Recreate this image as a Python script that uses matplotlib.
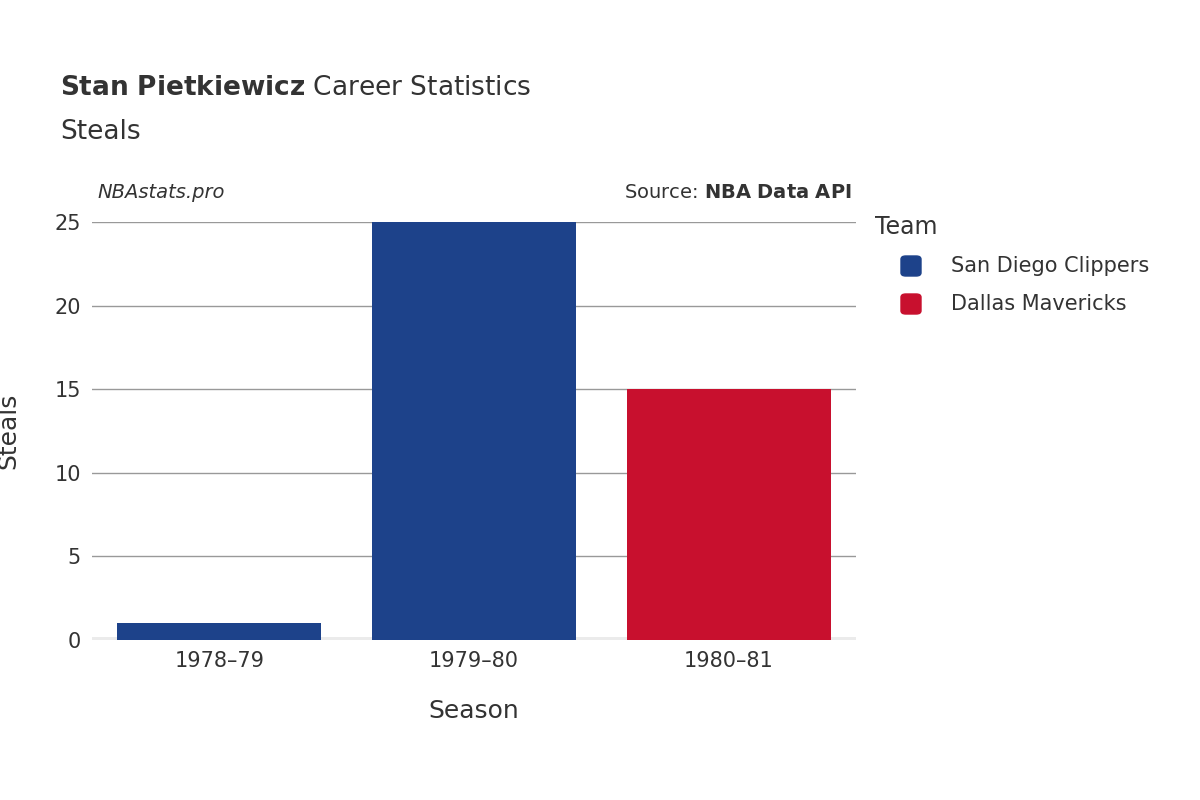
import matplotlib
matplotlib.use("Agg")
import matplotlib.pyplot as plt
from matplotlib.patches import FancyBboxPatch

plt.rcParams["font.family"] = "DejaVu Sans"

seasons = ["1978–79", "1979–80", "1980–81"]
steals = [1, 25, 15]
teams = ["San Diego Clippers", "San Diego Clippers", "Dallas Mavericks"]
team_order = ["San Diego Clippers", "Dallas Mavericks"]
colors = {"San Diego Clippers": "#1D428A", "Dallas Mavericks": "#C8102E"}
yticks = [0, 5, 10, 15, 20, 25]

fig = plt.figure(figsize=(12, 8), dpi=100)
ax = fig.add_axes([92/1200, 0.2, (856-92)/1200, (640-222)/800])
x = list(range(len(seasons)))
ax.bar(x, steals, width=0.8, color=[colors[t] for t in teams], zorder=3)
ax.set_xlim(-0.5, 2.5)
ax.set_ylim(0, 25)
ax.set_yticks(yticks)
ax.set_xticks(x)
ax.set_xticklabels(seasons)
ax.grid(axis="y", color="#999999", linewidth=1, zorder=0)
ax.axhline(0, color="#ebebeb", linewidth=5, zorder=2)
for s in ax.spines.values():
    s.set_visible(False)
ax.tick_params(length=0, labelsize=15, colors="#333333", pad=8)
ax.set_xlabel("Season", fontsize=18, color="#333333", labelpad=20)
ax.set_ylabel("Steals", fontsize=18, color="#333333")
ax.yaxis.set_label_coords(-72/764, 0.5)

fig.text(60/1200, 1-88/800, r"$\bf{Stan\ Pietkiewicz}$ Career Statistics", fontsize=19,
         color="#333333", va="center")
fig.text(60/1200, 1-132/800, "Steals", fontsize=19, color="#333333", va="center")
fig.text(97/1200, 1-192/800, "NBAstats.pro", fontsize=14, style="italic", color="#333333", va="center")
fig.text(852/1200, 1-192/800, r"Source: $\bf{NBA\ Data\ API}$", fontsize=14, color="#333333",
         va="center", ha="right")

fig.text(875/1200, 1-227/800, "Team", fontsize=17, color="#333333", va="center")
for i, t in enumerate(team_order):
    yc = 1 - (266 + 38*i)/800
    fig.patches.append(FancyBboxPatch((901/1200, yc - 10/800), 20/1200, 20/800,
                       boxstyle="round,pad=0,rounding_size=0.004", transform=fig.transFigure,
                       color=colors[t]))
    fig.text(951/1200, yc, t, fontsize=15, color="#333333", va="center")

fig.savefig("out.png")
